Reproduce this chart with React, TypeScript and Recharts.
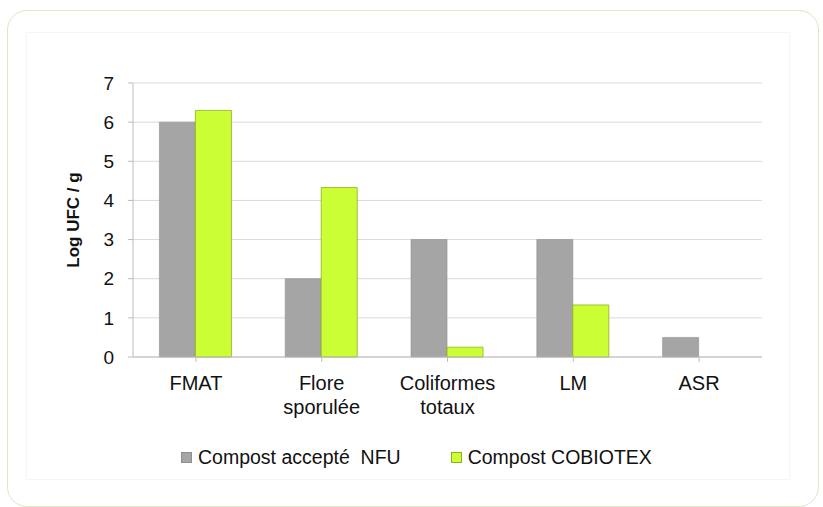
import * as React from "react";
import {
  BarChart,
  Bar,
  XAxis,
  YAxis,
  CartesianGrid,
  Legend,
} from "recharts";

const categories = ["FMAT", "Flore\nsporulée", "Coliformes\ntotaux", "LM", "ASR"];
const nfuValues = [6.0, 2.0, 3.0, 3.0, 0.5];
const cobiotexValues = [6.3, 4.33, 0.25, 1.33, 0];
const yTicks = [0, 1, 2, 3, 4, 5, 6, 7];

const seriesNames = {
  nfu: "Compost accepté  NFU",
  cobiotex: "Compost COBIOTEX",
};

const colors = {
  nfu: "#a5a5a5",
  nfuStroke: "#8f8f8f",
  cobiotex: "#ccff33",
  cobiotexStroke: "#8fae1f",
};

const data = categories.map((name, i) => ({
  name,
  nfu: nfuValues[i],
  cobiotex: cobiotexValues[i],
}));

const FONT = "'Liberation Sans', Arial, sans-serif";

function CategoryTick(props: any) {
  const { x, y, payload } = props;
  const lines = String(payload.value).split("\n");
  return (
    <text x={x} y={y + 26} textAnchor="middle" fontFamily={FONT} fontSize={20} fill="#111">
      {lines.map((line, i) => (
        <tspan key={i} x={x} dy={i === 0 ? 0 : 24}>
          {line}
        </tspan>
      ))}
    </text>
  );
}

function ChartLegend() {
  const items = [
    { label: seriesNames.nfu, fill: colors.nfu, stroke: colors.nfuStroke },
    { label: seriesNames.cobiotex, fill: colors.cobiotex, stroke: colors.cobiotexStroke },
  ];
  return (
    <div style={{ display: "flex", justifyContent: "flex-start", gap: 50, paddingLeft: 108, fontFamily: FONT, fontSize: 19.5, color: "#111" }}>
      {items.map((it) => (
        <div key={it.label} style={{ display: "flex", alignItems: "center", whiteSpace: "pre" }}>
          <span style={{ display: "inline-block", width: 9, height: 9, background: it.fill, border: `1px solid ${it.stroke}`, marginRight: 6 }} />
          {it.label}
        </div>
      ))}
    </div>
  );
}

export default function App() {
  return (
    <div style={{ position: "absolute", left: 0, top: 0, width: 823, height: 507, background: "#fff", overflow: "hidden" }}>
      <div
        style={{
          position: "absolute",
          left: 7,
          top: 10,
          width: 812,
          height: 497,
          border: "1.5px solid #e2e5c6",
          borderRadius: 20,
          boxSizing: "border-box",
        }}
      />
      <div
        style={{
          position: "absolute",
          left: 26,
          top: 32,
          width: 764,
          height: 448,
          border: "1px solid #f5f5f5",
          boxSizing: "border-box",
        }}
      />
      <div style={{ position: "absolute", left: 0, top: 0 }}>
        <BarChart
          width={823}
          height={507}
          data={data}
          margin={{ top: 83, right: 61, left: 73, bottom: 28 }}
          barCategoryGap="21%"
          barGap={0}
        >
          <CartesianGrid vertical={false} stroke="#d9d9d9" />
          <XAxis
            dataKey="name"
            interval={0}
            height={99}
            tick={<CategoryTick />}
            tickLine={{ stroke: "#bdbdbd" }}
            axisLine={{ stroke: "#bdbdbd" }}
            tickSize={5}
          />
          <YAxis
            width={60}
            domain={[0, 7]}
            ticks={yTicks}
            interval={0}
            tick={{ fontFamily: FONT, fontSize: 19, fill: "#111" }}
            tickLine={{ stroke: "#bdbdbd" }}
            axisLine={{ stroke: "#bdbdbd" }}
            tickSize={5}
            tickMargin={14}
            label={{
              value: "Log UFC / g",
              angle: -90,
              position: "insideLeft",
              offset: 0,
              style: { fontFamily: FONT, fontSize: 17, fontWeight: "bold", fill: "#111", textAnchor: "middle" },
            }}
          />
          <Legend verticalAlign="bottom" content={<ChartLegend />} wrapperStyle={{ bottom: 38 }} />
          <Bar
            dataKey="nfu"
            name={seriesNames.nfu}
            fill={colors.nfu}
            stroke={colors.nfuStroke}
            strokeWidth={0.6}
            isAnimationActive={false}
          />
          <Bar
            dataKey="cobiotex"
            name={seriesNames.cobiotex}
            fill={colors.cobiotex}
            stroke={colors.cobiotexStroke}
            strokeWidth={0.8}
            isAnimationActive={false}
          />
        </BarChart>
      </div>
    </div>
  );
}
